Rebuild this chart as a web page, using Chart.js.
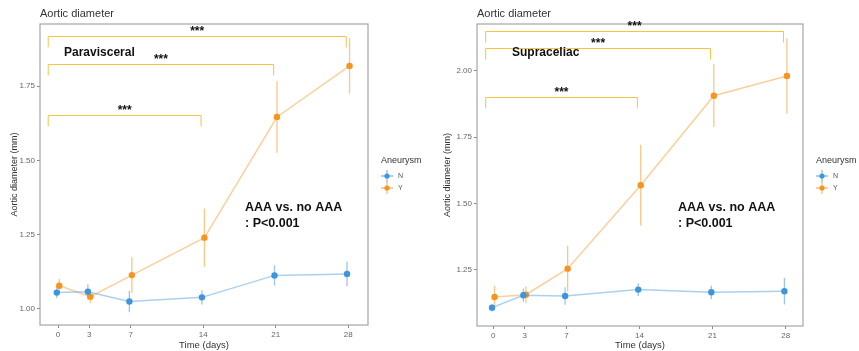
<!DOCTYPE html>
<html>
<head>
<meta charset="utf-8">
<script src="https://cdn.jsdelivr.net/npm/chart.js@4.4.1/dist/chart.umd.min.js"></script>
<style>
  body { margin: 0; background: #fff; }
  canvas { position: absolute; top: 0; }
</style>
</head>
<body>
<canvas id="paraChart" width="430" height="351" style="left:0"></canvas>
<canvas id="supraChart" width="429" height="351" style="left:430px"></canvas>
<script>
// Time points (days)
const days = [0, 3, 7, 14, 21, 28];

// Paravisceral: mean and error half-width
const paraN = [1.055, 1.058, 1.025, 1.039, 1.113, 1.118];
const paraNErr = [0.018, 0.025, 0.036, 0.024, 0.034, 0.042];
const paraY = [1.078, 1.041, 1.114, 1.240, 1.646, 1.818];
const paraYErr = [0.024, 0.022, 0.060, 0.098, 0.120, 0.093];
const paraYTicks = [1.00, 1.25, 1.50, 1.75];

// Supraceliac
const supraN = [1.108, 1.155, 1.152, 1.176, 1.166, 1.170];
const supraNErr = [0.014, 0.025, 0.033, 0.024, 0.025, 0.050];
const supraY = [1.148, 1.157, 1.255, 1.569, 1.906, 1.980];
const supraYErr = [0.042, 0.032, 0.086, 0.152, 0.118, 0.142];
const supraYTicks = [1.25, 1.50, 1.75, 2.00];

// Significance brackets (day 0 vs day n) and their heights
const bracketDays = [14, 21, 28];
const paraBracketY = [1.653, 1.824, 1.918];
const supraBracketY = [1.900, 2.084, 2.151];

const BLUE = '#3f95db';
const ORANGE = '#f7941d';
const FONT = '"Liberation Sans", Arial, sans-serif';

function series(vals, errs, shift) {
    return vals.map((v, i) => ({ x: days[i] + shift, y: v, err: errs[i] }));
}

function dataset(label, vals, errs, color, shift) {
    return {
        label: label,
        data: series(vals, errs, shift),
        showLine: true,
        borderColor: color + '70',
        backgroundColor: color,
        borderWidth: 1.5,
        pointRadius: 3.2,
        pointBorderWidth: 0,
        pointHoverRadius: 3.2,
        tension: 0
    };
}

// Error bars, brackets, titles, annotations, legend
function panelPlugin(cfg) {
    return {
        id: 'panelExtras',
        beforeDatasetsDraw(chart) {
            const ctx = chart.ctx, xs = chart.scales.x, ys = chart.scales.y;
            ctx.save();
            ctx.lineWidth = 1.3;
            chart.data.datasets.forEach(ds => {
                ctx.strokeStyle = ds.backgroundColor + '88';
                ds.data.forEach(p => {
                    const px = xs.getPixelForValue(p.x);
                    ctx.beginPath();
                    ctx.moveTo(px, ys.getPixelForValue(p.y - p.err));
                    ctx.lineTo(px, ys.getPixelForValue(p.y + p.err));
                    ctx.stroke();
                });
            });
            ctx.restore();
        },
        afterDraw(chart) {
            const ctx = chart.ctx, xs = chart.scales.x, ys = chart.scales.y;
            const a = chart.chartArea;
            ctx.save();
            // panel border
            ctx.strokeStyle = '#a6a6a6';
            ctx.lineWidth = 1.2;
            ctx.strokeRect(a.left, a.top, a.right - a.left, a.bottom - a.top);

            // brackets
            ctx.strokeStyle = '#f6c445';
            ctx.lineWidth = 1;
            ctx.fillStyle = '#111';
            ctx.font = 'bold 12px ' + FONT;
            ctx.textAlign = 'center';
            ctx.textBaseline = 'middle';
            bracketDays.forEach((d, i) => {
                const x1 = xs.getPixelForValue(cfg.bracketStart);
                const x2 = xs.getPixelForValue(d - 0.2);
                const y = Math.round(ys.getPixelForValue(cfg.bracketY[i])) + 0.5;
                ctx.beginPath();
                ctx.moveTo(x1, y + 11);
                ctx.lineTo(x1, y);
                ctx.lineTo(x2, y);
                ctx.lineTo(x2, y + 11);
                ctx.stroke();
                ctx.fillText('***', (x1 + x2) / 2, y - 5);
            });

            // title
            ctx.textAlign = 'left';
            ctx.fillStyle = '#333';
            ctx.font = '11px ' + FONT;
            ctx.fillText('Aortic diameter', a.left, 14);

            // region label
            ctx.fillStyle = '#111';
            ctx.font = 'bold 12px ' + FONT;
            ctx.fillText(cfg.region, a.left + cfg.regionX, 53);

            // AAA annotation
            ctx.font = 'bold 12.5px ' + FONT;
            ctx.fillText('AAA vs. no AAA', a.left + cfg.noteX, 208);
            ctx.fillText(': P<0.001', a.left + cfg.noteX, 224);

            // legend
            const lx = a.right + 13;
            ctx.fillStyle = '#333';
            ctx.font = '9px ' + FONT;
            ctx.fillText('Aneurysm', lx, 161);
            [['N', BLUE, 176], ['Y', ORANGE, 188]].forEach(([lab, col, y]) => {
                const cx = lx + 6;
                ctx.strokeStyle = col + '99';
                ctx.lineWidth = 1.3;
                ctx.beginPath();
                ctx.moveTo(cx - 6, y); ctx.lineTo(cx + 6, y);
                ctx.moveTo(cx, y - 6); ctx.lineTo(cx, y + 6);
                ctx.stroke();
                ctx.fillStyle = col;
                ctx.beginPath();
                ctx.arc(cx, y, 2.6, 0, Math.PI * 2);
                ctx.fill();
                ctx.fillStyle = '#555';
                ctx.font = '7px ' + FONT;
                ctx.fillText(lab, lx + 17, y);
            });
            ctx.restore();
        }
    };
}

function makeChart(id, nVals, nErr, yVals, yErr, yTicks, cfg) {
    const ctx = document.getElementById(id).getContext('2d');
    return new Chart(ctx, {
        type: 'scatter',
        data: {
            datasets: [
                dataset('N', nVals, nErr, BLUE, -0.12),
                dataset('Y', yVals, yErr, ORANGE, 0.12)
            ]
        },
        options: {
            responsive: false,
            animation: false,
            layout: { padding: { top: 24, right: cfg.padRight, left: 0, bottom: 0 } },
            plugins: {
                legend: { display: false },
                tooltip: { enabled: false },
                title: { display: false }
            },
            scales: {
                x: {
                    type: 'linear',
                    min: cfg.xMin,
                    max: cfg.xMax,
                    afterBuildTicks: s => { s.ticks = days.map(v => ({ value: v })); },
                    afterFit: s => { s.height = cfg.xHeight; },
                    border: { display: false },
                    grid: { drawOnChartArea: false, tickLength: 3, color: '#888' },
                    ticks: { color: '#666', font: { size: 8, family: FONT }, padding: 2, maxRotation: 0 },
                    title: { display: true, text: 'Time (days)', color: '#333', font: { size: 9.5, family: FONT }, padding: 0 }
                },
                y: {
                    min: cfg.yMin,
                    max: cfg.yMax,
                    afterBuildTicks: s => { s.ticks = yTicks.map(v => ({ value: v })); },
                    afterFit: s => { s.width = cfg.yWidth; },
                    border: { display: false },
                    grid: { drawOnChartArea: false, tickLength: 3, color: '#888' },
                    ticks: { color: '#666', font: { size: 8, family: FONT }, padding: 2, callback: v => v.toFixed(2) },
                    title: { display: true, text: 'Aortic diameter (mm)', color: '#333', font: { size: 9, family: FONT }, padding: { top: cfg.yTitlePad, bottom: 0 } }
                }
            }
        },
        plugins: [panelPlugin(cfg)]
    });
}

makeChart('paraChart', paraN, paraNErr, paraY, paraYErr, paraYTicks, {
    padRight: 62, yWidth: 40, xHeight: 26, yTitlePad: 9,
    xMin: -1.74, xMax: 29.9, yMin: 0.946, yMax: 1.959,
    bracketStart: -0.95, bracketY: paraBracketY,
    region: 'Paravisceral', regionX: 24, noteX: 205
});

makeChart('supraChart', supraN, supraNErr, supraY, supraYErr, supraYTicks, {
    padRight: 56, yWidth: 47, xHeight: 25, yTitlePad: 12,
    xMin: -1.56, xMax: 29.66, yMin: 1.039, yMax: 2.176,
    bracketStart: -0.73, bracketY: supraBracketY,
    region: 'Supraceliac', regionX: 35, noteX: 201
});
</script>
</body>
</html>
